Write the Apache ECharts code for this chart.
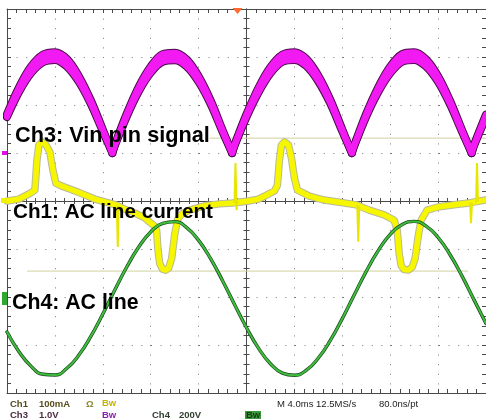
<!DOCTYPE html>
<html>
<head>
<meta charset="utf-8">
<script src="https://cdn.jsdelivr.net/npm/echarts@6.0.0/dist/echarts.min.js"></script>
<style>
html,body{margin:0;padding:0;background:#fff;}
#c{width:486px;height:419px;}
</style>
</head>
<body>
<div id="c"></div>
<script>
// ---------- data (time in ms, 4 ms/div) ----------
// Ch4: AC line voltage (V), 200 V/div
const ch4Time = [0,1,2,3,4,5,6,7,8,9,10,11,12,13,14,15,16,17,18,19,20,21,22,23,24,25,26,27,28,29,30,31,32,33,34,35,36,37,38,39,40];
const ch4Volts = [-146,-228,-288,-322,-325,-297,-242,-164,-71,29,125,208,271,307,314,289,236,160,68,-31,-128,-213,-278,-317,-326,-305,-254,-181,-90,9,107,193,261,302,315,295,248,176,87,-12,-110];

// Ch3: Vin pin signal (V), 1.0 V/div, upper / lower envelope of the trace
const ch3Time = [0,1,2,3,4,5,6,7,8,8.8,9,10,11,12,13,14,15,16,17,18,18.8,19,20,21,22,23,24,25,26,27,28,28.8,29,30,31,32,33,34,35,36,37,38,38.8,39,40];
const ch3Upper = [0.81,1.37,1.80,2.05,2.10,1.96,1.60,1.10,0.49,0,0.17,0.82,1.38,1.80,2.06,2.09,1.95,1.60,1.10,0.48,0,0.17,0.81,1.36,1.79,2.05,2.10,1.96,1.61,1.11,0.49,0,0.16,0.82,1.37,1.80,2.06,2.10,1.95,1.60,1.09,0.48,0,0.17,0.80];
const ch3Lower = [0.75,1.27,1.66,1.89,1.94,1.80,1.48,1.02,0.45,0,0.15,0.76,1.28,1.67,1.90,1.93,1.80,1.48,1.02,0.44,0,0.15,0.75,1.26,1.66,1.90,1.94,1.81,1.49,1.03,0.45,0,0.15,0.76,1.27,1.66,1.90,1.94,1.80,1.48,1.01,0.44,0,0.15,0.74];

// Ch1: AC line current (mA), 100 mA/div
const ch1Time = [0,1,2,2.33,2.5,2.67,2.92,3.25,3.58,3.83,4.08,4.58,5.25,6.08,7.33,8.17,9.08,9.83,10.67,11.5,11.92,12.33,12.5,12.6,12.75,13.0,13.25,13.5,13.75,14.0,14.25,14.6,15.25,16.5,17.75,18.83,20.17,21,21.5,22.33,22.58,22.75,22.92,23.17,23.5,23.75,24.0,24.25,25.25,26.5,28.17,29.17,30.25,31.5,32.33,32.58,32.75,32.92,33.17,33.5,33.83,34.08,34.33,34.58,35.08,36.08,37.33,38.58,40];
const ch1Current = [0,4,17,23,85,117,123,117,102,65,37,31,25,17,4,-2,-8,-17,-25,-35,-44,-52,-62,-100,-130,-142,-144,-140,-120,-70,-38,-27,-19,-10,-6,-4,0,4,10,21,33,85,117,123,117,90,48,23,10,2,-4,-8,-19,-29,-40,-60,-110,-135,-143,-144,-138,-120,-75,-40,-19,-12,-8,-4,2];
// narrow switching spikes on Ch1
const ch1SpikeTimes = [[9.17,9.25,9.33],[19.0,19.08,19.17,19.25],[29.25,29.33,29.42],[38.67,38.75,38.83],[39.17,39.25,39.33]];
const ch1SpikeValues = [[-8,-96,-10],[-4,79,-19,0],[-8,-85,-10],[-4,-46,-4],[-3,79,0]];

// cursor / level lines (Ch1 units)
const cursorLevels = [131, -146];
const cursorStart = [16.9, 1.67];
const cursorEnd = [40, 38.5];

const triggerTime = 19.25;

const traceLabels = ['Ch3: Vin pin signal', 'Ch1: AC line current', 'Ch4: AC line'];

// ---------- chart ----------
const zip = (a, b) => a.map((t, i) => [t, b[i]]);
// split a rectified trace at its zero cusps so each arch is smoothed on its own
function splitAtCusps(pts) {
  const out = [];
  pts.forEach((p, i) => {
    out.push(p);
    if (p[1] === 0 && i > 0 && i < pts.length - 1) { out.push([p[0], '-']); out.push(p); }
  });
  return out;
}
const GRID = '#7a7a7a';
const FRAME = '#4a4a4a';

function frameX(position, inside, extra) {
  return Object.assign({
    type: 'value', min: 0, max: 40, interval: 4, position: position,
    axisLine: { show: true, onZero: false, lineStyle: { color: FRAME, width: 1 } },
    axisTick: { show: true, inside: inside, length: 4, lineStyle: { color: FRAME } },
    minorTick: { show: true, splitNumber: 5, length: 4, lineStyle: { color: FRAME } },
    axisLabel: { show: false },
    splitLine: { show: false }
  }, extra || {});
}
function frameY(position, inside, extra) {
  return Object.assign({
    type: 'value', min: -4, max: 4, interval: 1, position: position,
    axisLine: { show: true, onZero: false, lineStyle: { color: FRAME, width: 1 } },
    axisTick: { show: true, inside: inside, length: 4, lineStyle: { color: FRAME } },
    minorTick: { show: true, splitNumber: 5, length: 4, lineStyle: { color: FRAME } },
    axisLabel: { show: false },
    splitLine: { show: false }
  }, extra || {});
}
const centerTick = (inside) => ({
  axisTick: { show: true, inside: inside, length: 3, lineStyle: { color: FRAME } },
  minorTick: { show: true, splitNumber: 5, length: 3, lineStyle: { color: FRAME } }
});

const xAxes = [
  frameX('bottom', true, { splitLine: { show: true, lineStyle: { color: GRID, width: 1, type: [1, 8.6] } } }),
  frameX('top', true),
  { type: 'value', min: -20, max: 20, show: false },
  frameX('bottom', true, Object.assign({ axisLine: { show: true, onZero: true, onZeroAxisIndex: 0, lineStyle: { color: FRAME } } }, centerTick(true))),
  frameX('bottom', false, Object.assign({ axisLine: { show: true, onZero: true, onZeroAxisIndex: 0, lineStyle: { color: FRAME } } }, centerTick(false)))
];
const yAxes = [
  frameY('left', true, { splitLine: { show: true, lineStyle: { color: GRID, width: 1, type: [1, 8.6] } } }),
  frameY('right', true),
  frameY('left', true, Object.assign({ axisLine: { show: true, onZero: true, onZeroAxisIndex: 2, lineStyle: { color: FRAME } } }, centerTick(true))),
  frameY('left', false, Object.assign({ axisLine: { show: true, onZero: true, onZeroAxisIndex: 2, lineStyle: { color: FRAME } } }, centerTick(false))),
  { type: 'value', min: -5, max: 3, show: false },      // Ch3 1.0 V/div
  { type: 'value', min: -400, max: 400, show: false },  // Ch1 100 mA/div
  { type: 'value', min: -400, max: 1200, show: false }  // Ch4 200 V/div
];

function lineSeries(data, yIdx, color, width, extra) {
  return Object.assign({
    type: 'line', xAxisIndex: 0, yAxisIndex: yIdx, data: data,
    showSymbol: false, symbol: 'none', smooth: false, silent: true, connectNulls: false,
    lineStyle: { color: color, width: width, join: 'round', cap: 'round' },
    emphasis: { disabled: true }
  }, extra || {});
}

const series = [];
cursorLevels.forEach((lv, i) => {
  series.push(lineSeries([[cursorStart[i], lv], [cursorEnd[i], lv]], 5, '#d0d09e', 1, { lineStyle: { color: '#d0d09e', width: 1 } }));
});
// Ch1 yellow
series.push(lineSeries(zip(ch1Time, ch1Current), 5, '#b9b99a', 7.5));
series.push(lineSeries(zip(ch1Time, ch1Current), 5, '#f6f600', 5.5));
ch1SpikeTimes.forEach((ts, i) => {
  series.push(lineSeries(zip(ts, ch1SpikeValues[i]), 5, '#e6e600', 2, { lineStyle: { color: '#e6e600', width: 2, join: 'miter' } }));
});
// Ch3 magenta: dark rim, then magenta band (upper, lower and the middle between them)
const ch3Mid = ch3Upper.map((u, i) => (u + ch3Lower[i]) / 2);
const up = splitAtCusps(zip(ch3Time, ch3Upper));
const lo = splitAtCusps(zip(ch3Time, ch3Lower));
const mid = splitAtCusps(zip(ch3Time, ch3Mid));
const sm = 0.35;
series.push(lineSeries(up, 4, '#4a0a4a', 8, { smooth: sm }));
series.push(lineSeries(lo, 4, '#4a0a4a', 8, { smooth: sm }));
series.push(lineSeries(up, 4, '#f21af2', 6, { smooth: sm }));
series.push(lineSeries(lo, 4, '#f21af2', 6, { smooth: sm }));
series.push(lineSeries(mid, 4, '#f21af2', 6, { smooth: sm }));
// Ch4 green
series.push(lineSeries(zip(ch4Time, ch4Volts), 6, '#1c4a1c', 3.4, { smooth: true }));
series.push(lineSeries(zip(ch4Time, ch4Volts), 6, '#3fbd3f', 2, { smooth: true }));

const chart = echarts.init(document.getElementById('c'), null, { renderer: 'canvas' });
chart.setOption({
  animation: false,
  backgroundColor: '#ffffff',
  grid: { left: 7, top: 9, width: 480, height: 384, containLabel: false },
  xAxis: xAxes,
  yAxis: yAxes,
  series: series
});

// ---------- channel markers, trigger marker and texts ----------
const yCh3 = chart.convertToPixel({ yAxisIndex: 4 }, 0);
const yCh1 = chart.convertToPixel({ yAxisIndex: 5 }, 0);
const yCh4 = chart.convertToPixel({ yAxisIndex: 6 }, 0);
const xTrig = chart.convertToPixel({ xAxisIndex: 0 }, triggerTime);

function txt(x, y, s, font, fill) {
  return { type: 'text', x: x, y: y, z: 100,
    style: { text: s, font: font, fill: fill, align: 'left', verticalAlign: 'middle', textAlign: 'left', textVerticalAlign: 'middle' } };
}
const bigFont = (px) => 'bold ' + px + 'px "Liberation Sans", Arial, sans-serif';
const small = 'bold 9.5px "Liberation Sans", Arial, sans-serif';
const smallN = '9.5px "Liberation Sans", Arial, sans-serif';

chart.setOption({
  graphic: [
    { type: 'rect', z: 90, shape: { x: 2, y: yCh3 - 2, width: 5, height: 4 }, style: { fill: '#e010e0' } },
    { type: 'rect', z: 90, shape: { x: 1, y: yCh1 - 3, width: 6, height: 5 }, style: { fill: '#f0f000' } },
    { type: 'rect', z: 90, shape: { x: 2, y: yCh4 - 5, width: 5, height: 13 }, style: { fill: '#2ea82e' } },
    { type: 'polygon', z: 90, shape: { points: [[xTrig - 5, 8], [xTrig + 5, 8], [xTrig, 14]] }, style: { fill: '#ff6a30' } },
    txt(15, 136, traceLabels[0], bigFont(21.7), '#000'),
    txt(13, 212, traceLabels[1], bigFont(20.7), '#000'),
    txt(12, 303, traceLabels[2], bigFont(21.3), '#000'),
    txt(10, 404, 'Ch1', small, '#574d1a'),
    txt(39, 404, '100mA', small, '#574d1a'),
    txt(86, 404, 'Ω', small, '#8a8a3a'),
    txt(102, 403, 'Bw', small, '#c8b400'),
    txt(10, 415, 'Ch3', small, '#4d2a40'),
    txt(39, 415, '1.0V', small, '#4d2a40'),
    txt(102, 415, 'Bw', small, '#8a1fb0'),
    txt(152, 415, 'Ch4', small, '#2f3f2f'),
    txt(179, 415, '200V', small, '#2f3f2f'),
    { type: 'rect', z: 99, shape: { x: 245, y: 411, width: 16, height: 8 }, style: { fill: '#3a9a3a' } },
    txt(246, 415, 'Bw', small, '#123a12'),
    txt(277, 404, 'M 4.0ms 12.5MS/s', smallN, '#222'),
    txt(379, 404, '80.0ns/pt', smallN, '#222')
  ]
});
</script>
</body>
</html>
